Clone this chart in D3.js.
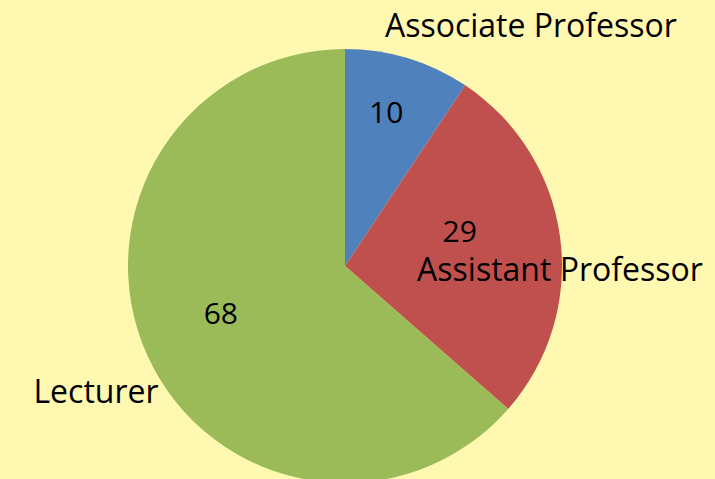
<!DOCTYPE html>
<html>
<head>
<meta charset="utf-8">
<script src="https://cdn.jsdelivr.net/npm/d3@7"></script>
<style>
  html, body { margin: 0; padding: 0; background: #fff8b0; }
  text { font-family: "Open Sans", "DejaVu Sans", sans-serif; fill: #000; }
</style>
</head>
<body>
<div id="chart"></div>
<script>
// Data
const categories = ["Associate Professor", "Assistant Professor", "Lecturer"];
const values = [10, 29, 68];
const colors = ["#4f81bd", "#c0504d", "#9bbb59"];

// Label placement: angle (deg, clockwise from top) and distance from centre
const valueLabelPos = [[15, 159], [73, 120], [249, 133]];
const nameLabelPos = [[37.7, 304], [91, 215], [243.2, 279]];

const width = 715;
const height = 479;
const cx = 345, cy = 266, radius = 217;

const svg = d3.select("#chart")
    .append("svg")
    .attr("width", width)
    .attr("height", height);

svg.append("rect")
    .attr("width", width)
    .attr("height", height)
    .attr("fill", "#fff8b0");

const g = svg.append("g").attr("transform", `translate(${cx},${cy})`);

const pie = d3.pie().sort(null).value(d => d);
const arc = d3.arc().innerRadius(0).outerRadius(radius);
const arcs = pie(values);

g.selectAll("path.slice")
    .data(arcs)
    .join("path")
    .attr("class", "slice")
    .attr("d", arc)
    .attr("fill", (d, i) => colors[i]);

function polar(p) {
  const a = p[0] * Math.PI / 180;
  return [p[1] * Math.sin(a), -p[1] * Math.cos(a)];
}

g.selectAll("text.value")
    .data(arcs)
    .join("text")
    .attr("class", "value")
    .attr("text-anchor", "middle")
    .attr("dy", "0.36em")
    .attr("font-size", 30)
    .attr("x", (d, i) => polar(valueLabelPos[i])[0])
    .attr("y", (d, i) => polar(valueLabelPos[i])[1])
    .text(d => d.data);

g.selectAll("text.name")
    .data(categories)
    .join("text")
    .attr("class", "name")
    .attr("text-anchor", "middle")
    .attr("dy", "0.36em")
    .attr("font-size", 32)
    .attr("x", (d, i) => polar(nameLabelPos[i])[0])
    .attr("y", (d, i) => polar(nameLabelPos[i])[1])
    .text(d => d);
</script>
</body>
</html>
